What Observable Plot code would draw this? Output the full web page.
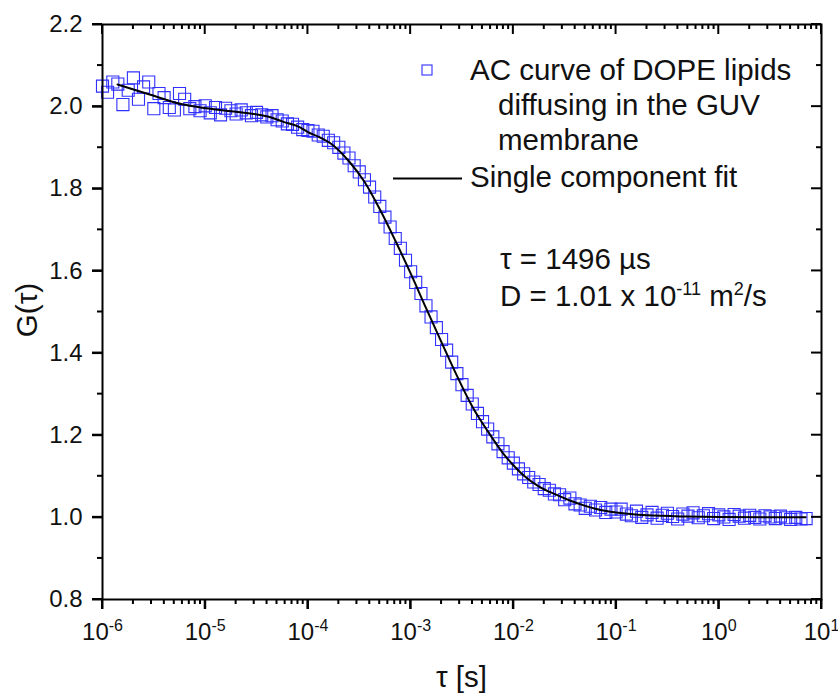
<!DOCTYPE html>
<html><head><meta charset="utf-8">
<script src="https://cdn.jsdelivr.net/npm/d3@7"></script>
<script src="https://cdn.jsdelivr.net/npm/@observablehq/plot@0.6"></script>
<style>body{margin:0;background:#fff;overflow:hidden;} svg{font-family:"Liberation Sans",Arial,sans-serif;}</style>
</head><body><div id="chart"></div>
<script>
// measured autocorrelation: lag time (s) and G(tau)
const tau = [
1.00e-6,1.12e-6,1.26e-6,1.41e-6,1.58e-6,1.78e-6,2.00e-6,2.24e-6,2.51e-6,2.82e-6,3.16e-6,3.55e-6,3.98e-6,4.47e-6,5.01e-6,5.62e-6,6.31e-6,7.08e-6,7.94e-6,8.91e-6,
1.00e-5,1.12e-5,1.26e-5,1.41e-5,1.58e-5,1.78e-5,2.00e-5,2.24e-5,2.51e-5,2.82e-5,3.16e-5,3.55e-5,3.98e-5,4.47e-5,5.01e-5,5.62e-5,6.31e-5,7.08e-5,7.94e-5,8.91e-5,
1.00e-4,1.12e-4,1.26e-4,1.41e-4,1.58e-4,1.78e-4,2.00e-4,2.24e-4,2.51e-4,2.82e-4,3.16e-4,3.55e-4,3.98e-4,4.47e-4,5.01e-4,5.62e-4,6.31e-4,7.08e-4,7.94e-4,8.91e-4,
1.00e-3,1.12e-3,1.26e-3,1.41e-3,1.58e-3,1.78e-3,2.00e-3,2.24e-3,2.51e-3,2.82e-3,3.16e-3,3.55e-3,3.98e-3,4.47e-3,5.01e-3,5.62e-3,6.31e-3,7.08e-3,7.94e-3,8.91e-3,
1.00e-2,1.12e-2,1.26e-2,1.41e-2,1.58e-2,1.78e-2,2.00e-2,2.24e-2,2.51e-2,2.82e-2,3.16e-2,3.55e-2,3.98e-2,4.47e-2,5.01e-2,5.62e-2,6.31e-2,7.08e-2,7.94e-2,8.91e-2,
0.100,0.112,0.126,0.141,0.158,0.178,0.200,0.224,0.251,0.282,0.316,0.355,0.398,0.447,0.501,0.562,0.631,0.708,0.794,0.891,
1.00,1.12,1.26,1.41,1.58,1.78,2.00,2.24,2.51,2.82,3.16,3.55,3.98,4.47,5.01,5.62,6.31,7.08
];
const g = [
2.050,2.035,2.060,2.055,2.005,2.040,2.070,2.018,2.048,2.060,1.995,2.032,2.022,1.998,1.992,2.032,2.018,1.995,2.000,1.990,
2.002,1.985,1.998,1.980,1.996,1.990,1.982,1.992,1.985,1.978,1.986,1.980,1.975,1.978,1.968,1.965,1.958,1.957,1.950,1.944,
1.942,1.940,1.931,1.928,1.918,1.912,1.901,1.887,1.875,1.856,1.841,1.822,1.804,1.780,1.757,1.731,1.707,1.679,1.655,1.626,
1.598,1.572,1.545,1.515,1.488,1.462,1.433,1.407,1.378,1.350,1.323,1.297,1.276,1.253,1.233,1.215,1.196,1.179,1.160,1.145,
1.132,1.118,1.106,1.097,1.086,1.080,1.070,1.066,1.057,1.055,1.043,1.047,1.033,1.030,1.022,1.027,1.018,1.024,1.012,1.020,
1.013,1.020,1.008,1.004,1.015,1.000,1.006,1.012,0.998,1.005,1.010,1.002,0.996,1.008,1.003,1.011,0.999,1.004,1.009,0.997,
1.006,1.001,0.995,1.007,1.003,0.998,1.005,1.000,0.996,1.004,1.001,0.997,1.003,0.999,0.995,1.000,0.996,0.997
];
// single component fit
const fitTau = [1.40e-6,2.93e-6,6.15e-6,9.0e-6,1.89e-5,4.05e-5,5.78e-5,8.47e-5,1.0e-4,1.26e-4,1.78e-4,2.51e-4,3.55e-4,5.01e-4,7.08e-4,1.0e-3,1.41e-3,2.0e-3,2.82e-3,3.98e-3,5.62e-3,7.94e-3,1.0e-2,1.26e-2,1.78e-2,2.51e-2,3.55e-2,5.01e-2,7.08e-2,0.1,0.2,0.5,1.0,7.0];
const fitG   = [2.054,2.029,2.005,1.998,1.988,1.976,1.963,1.949,1.938,1.927,1.905,1.867,1.817,1.750,1.674,1.594,1.510,1.426,1.345,1.270,1.210,1.156,1.127,1.102,1.075,1.057,1.041,1.028,1.018,1.012,1.005,1.002,1.001,1.000];

const xMajor = [1e-6,1e-5,1e-4,1e-3,1e-2,1e-1,1,10];
const xLabels = ["10^{-6}","10^{-5}","10^{-4}","10^{-3}","10^{-2}","10^{-1}","10^{0}","10^{1}"];
const yMajor = [0.8,1.0,1.2,1.4,1.6,1.8,2.0,2.2];
const yLabels = ["0.8","1.0","1.2","1.4","1.6","1.8","2.0","2.2"];
const yMinor = [0.9,1.1,1.3,1.5,1.7,1.9,2.1];
const xMinor = [];
xMajor.slice(0,-1).forEach(d => { for (let m = 2; m <= 9; m++) xMinor.push(d*m); });

const legendLabels = ["AC curve of DOPE lipids","diffusing in the GUV","membrane","Single component fit"];
const notes = ["\u03C4 = 1496 \u00B5s","D = 1.01 x 10^{-11} m^{2}/s"];
const xTitle = "\u03C4 [s]", yTitle = "G(\u03C4)";

const data = tau.map((t,i)=>({t, g:g[i]}));
const fit = fitTau.map((t,i)=>({t, g:fitG[i]}));
const blue = "#3030ff";
const font = "Liberation Sans, Arial, sans-serif";

const plot = Plot.plot({
  width: 838, height: 695,
  marginLeft: 102, marginRight: 17, marginTop: 24, marginBottom: 96,
  style: {fontFamily: font, fontSize: "24px", background: "#fff", color: "#000"},
  x: {type: "log", domain: [1e-6, 10]},
  y: {domain: [0.8, 2.2]},
  marks: [
    Plot.dot(data, {x:"t", y:"g", symbol:"square", r:6.8, stroke: blue, strokeWidth:1.1, fill:"none"}),
    Plot.line(fit, {x:"t", y:"g", stroke:"#000", strokeWidth:2, curve:"monotone-x"}),
    Plot.axisX(xMajor, {anchor:"bottom", tickSize:10, tickPadding:13, fontSize:24, fill:"#111",
      stroke:"#000", strokeWidth:2, label:null, tickFormat: d => xLabels[xMajor.indexOf(d)]}),
    Plot.axisY(yMajor, {anchor:"left", tickSize:10, tickPadding:10, fontSize:24, fill:"#111",
      stroke:"#000", strokeWidth:2, label:null, tickFormat: d => yLabels[yMajor.indexOf(d)]}),
    Plot.frame({stroke:"#000", strokeWidth:2})
  ]
});
document.getElementById("chart").appendChild(plot);

const svg = d3.select(plot);
const sx = plot.scale("x"), sy = plot.scale("y");
const X = v => sx.apply(v), Y = v => sy.apply(v);
const fL = X(1e-6), fR = X(10), fT = Y(2.2), fB = Y(0.8);

function setRich(textSel, str, supSize, rise) {
  const node = textSel.node();
  while (node.firstChild) node.removeChild(node.firstChild);
  const parts = str.split(/(\^\{[^}]*\})/).filter(s => s.length);
  let raised = false;
  parts.forEach(p => {
    const ts = textSel.append("tspan");
    if (p.startsWith("^{")) {
      ts.text(p.slice(2,-1)).attr("font-size", supSize).attr("dy", -rise);
      raised = true;
    } else {
      ts.text(p);
      if (raised) { ts.attr("dy", rise); raised = false; }
    }
  });
}
svg.selectAll("text").each(function(){
  const s = this.textContent;
  if (s.includes("^{")) setRich(d3.select(this), s, 16, 9);
});

const big = 29.5;
svg.append("text").attr("x", (fL+fR)/2).attr("y",687).attr("text-anchor","middle")
  .attr("font-size",big).attr("fill","#111").text(xTitle);
svg.append("text").attr("transform","translate(37,310) rotate(-90)").attr("text-anchor","middle")
  .attr("font-size",big).attr("fill","#111").text(yTitle);

const lg = svg.append("g").attr("font-size",big).attr("fill","#111").attr("text-anchor","start");
lg.append("rect").attr("x",422).attr("y",65).attr("width",10).attr("height",10)
  .attr("fill","none").attr("stroke",blue).attr("stroke-width",1.1);
lg.append("text").attr("x",470).attr("y",80).text(legendLabels[0]);
lg.append("text").attr("x",498).attr("y",115).text(legendLabels[1]);
lg.append("text").attr("x",498).attr("y",150).text(legendLabels[2]);
lg.append("line").attr("x1",393).attr("x2",462).attr("y1",178.5).attr("y2",178.5)
  .attr("stroke","#000").attr("stroke-width",2);
lg.append("text").attr("x",470).attr("y",187).text(legendLabels[3]);

const an = svg.append("g").attr("font-size",big).attr("fill","#111").attr("text-anchor","start");
an.append("text").attr("x",500).attr("y",269).text(notes[0]);
setRich(an.append("text").attr("x",500).attr("y",306), notes[1], 18, 11);

// minor ticks and mirrored inward ticks, drawn last
function seg(x1, y1, x2, y2) {
  svg.append("line").attr("x1",x1).attr("y1",y1).attr("x2",x2).attr("y2",y2)
    .attr("stroke","#000").attr("stroke-width",2);
}
xMinor.forEach(d => { const x = X(d); seg(x, fB, x, fB+5); seg(x, fT, x, fT+5); });
xMajor.forEach(d => { const x = X(d); seg(x, fB, x, fB+10); seg(x, fT, x, fT+10); });
yMinor.forEach(d => { const y = Y(d); seg(fL, y, fL-5, y); seg(fR, y, fR-5, y); });
yMajor.forEach(d => { const y = Y(d); seg(fL, y, fL-10, y); seg(fR, y, fR-10, y); });
</script>
</body></html>
